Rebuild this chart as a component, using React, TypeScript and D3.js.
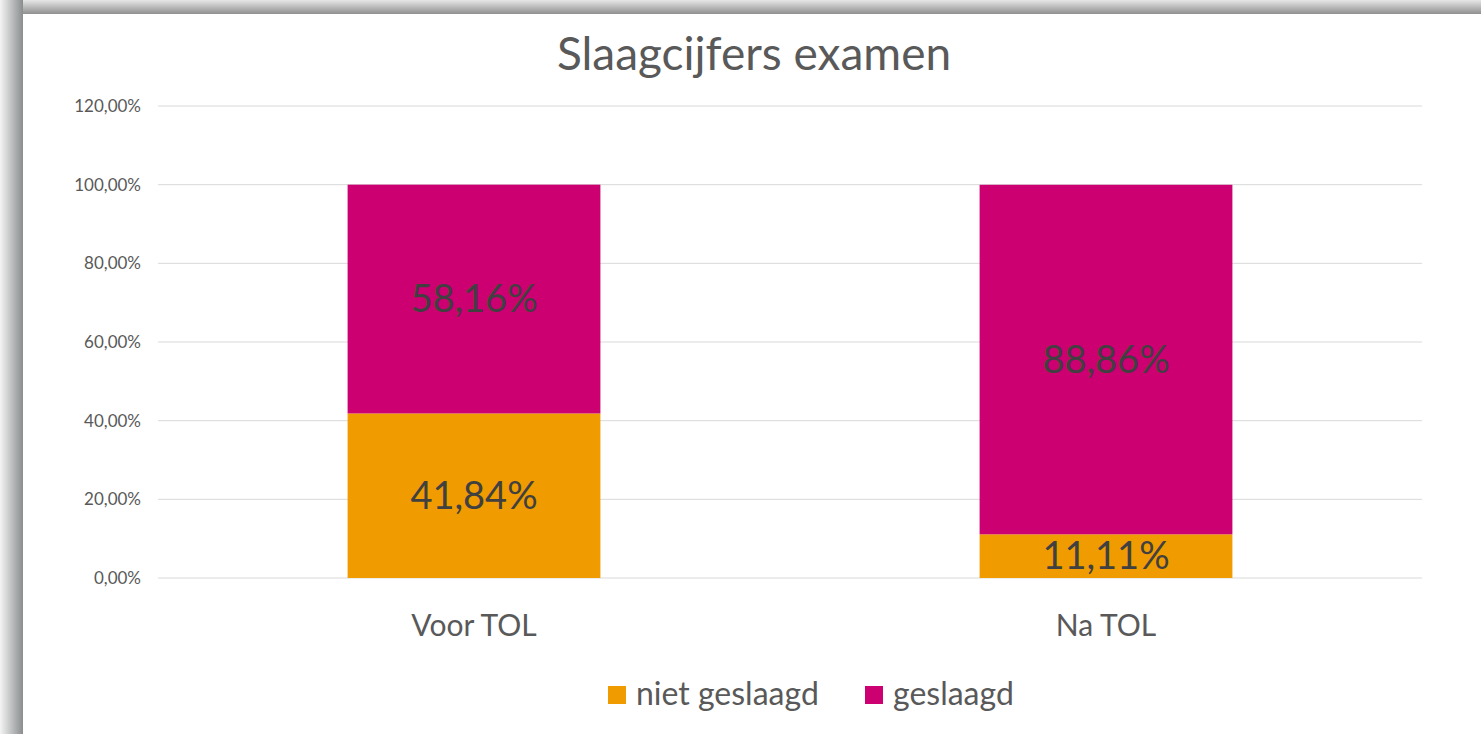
import { useEffect, useRef } from 'react'
import * as d3 from 'd3'

const categories = ['Voor TOL', 'Na TOL']
const seriesNames = ['niet geslaagd', 'geslaagd']
const nietGeslaagd = [41.84, 11.11]
const geslaagd = [58.16, 88.86]
const yTicks = [0, 20, 40, 60, 80, 100, 120]
const colors = ['#F09B00', '#CC0070']

const fmt = (v: number) => v.toFixed(2).replace('.', ',') + '%'

export default function App() {
  const svgRef = useRef<SVGSVGElement>(null)

  useEffect(() => {
    const width = 1481, height = 734
    const svg = d3.select(svgRef.current)
    svg.selectAll('*').remove()
    svg.attr('width', width).attr('height', height)

    const font = 'Lato, "Open Sans", sans-serif'

    // frame shadow
    const defs = svg.append('defs')
    const gTop = defs.append('linearGradient').attr('id', 'gTop').attr('x1', 0).attr('y1', 0).attr('x2', 0).attr('y2', 1)
    gTop.append('stop').attr('offset', '0%').attr('stop-color', '#e6e6e6')
    gTop.append('stop').attr('offset', '100%').attr('stop-color', '#8f8f8f')
    const gLeft = defs.append('linearGradient').attr('id', 'gLeft').attr('x1', 0).attr('y1', 0).attr('x2', 1).attr('y2', 0)
    gLeft.append('stop').attr('offset', '0%').attr('stop-color', '#f4f4f4')
    gLeft.append('stop').attr('offset', '100%').attr('stop-color', '#8a8d8e')

    svg.append('rect').attr('width', width).attr('height', height).attr('fill', '#ffffff')
    svg.append('rect').attr('x', 0).attr('y', 0).attr('width', width).attr('height', 14).attr('fill', 'url(#gTop)')
    svg.append('rect').attr('x', 0).attr('y', 0).attr('width', 23).attr('height', height).attr('fill', 'url(#gLeft)')

    const left = 158, right = 1422, top = 106, bottom = 578

    const x = d3.scaleBand().domain(categories).range([left, right]).padding(0)
    const y = d3.scaleLinear().domain([0, 120]).range([bottom, top])

    // gridlines
    svg.append('g').selectAll('line').data(yTicks).enter().append('line')
      .attr('x1', left).attr('x2', right)
      .attr('y1', d => y(d)).attr('y2', d => y(d))
      .attr('stroke', '#d9d9d9').attr('stroke-width', 1)

    // y tick labels
    svg.append('g').selectAll('text').data(yTicks).enter().append('text')
      .attr('x', 141).attr('y', d => y(d)).attr('dy', '0.35em')
      .attr('text-anchor', 'end')
      .attr('font-family', font).attr('font-size', 17).attr('fill', '#595959')
      .text(d => fmt(d))

    const stack = d3.stack<number>().keys([0, 1].map(String))
      .value((i, k) => (k === '0' ? nietGeslaagd[i] : geslaagd[i]))
    const series = stack(categories.map((_, i) => i))

    const barW = x.bandwidth() * 0.4
    series.forEach((s, si) => {
      s.forEach((d, i) => {
        const cx = x(categories[i])! + x.bandwidth() / 2
        svg.append('rect')
          .attr('x', cx - barW / 2).attr('width', barW)
          .attr('y', y(d[1])).attr('height', y(d[0]) - y(d[1]))
          .attr('fill', colors[si])
        svg.append('text')
          .attr('x', cx).attr('y', (y(d[0]) + y(d[1])) / 2).attr('dy', '0.35em')
          .attr('text-anchor', 'middle')
          .attr('font-family', font).attr('font-size', 38).attr('fill', '#404040')
          .text(fmt(d[1] - d[0]))
      })
    })

    // category labels
    svg.append('g').selectAll('text').data(categories).enter().append('text')
      .attr('x', d => x(d)! + x.bandwidth() / 2).attr('y', 625).attr('dy', '0.35em')
      .attr('text-anchor', 'middle')
      .attr('font-family', font).attr('font-size', 30).attr('fill', '#595959')
      .text(d => d)

    // title
    svg.append('text')
      .attr('x', 754).attr('y', 54).attr('dy', '0.35em')
      .attr('text-anchor', 'middle')
      .attr('font-family', font).attr('font-size', 46).attr('fill', '#595959')
      .text('Slaagcijfers examen')

    // legend
    const legendX = [608, 865]
    seriesNames.forEach((n, i) => {
      svg.append('rect').attr('x', legendX[i]).attr('y', 686).attr('width', 18).attr('height', 18).attr('fill', colors[i])
      svg.append('text')
        .attr('x', legendX[i] + 28).attr('y', 694).attr('dy', '0.35em')
        .attr('font-family', font).attr('font-size', 32).attr('fill', '#595959')
        .text(n)
    })
  }, [])

  return (
    <div style={{ position: 'absolute', left: 0, top: 0 }}>
      <svg ref={svgRef} style={{ display: 'block' }} />
    </div>
  )
}
